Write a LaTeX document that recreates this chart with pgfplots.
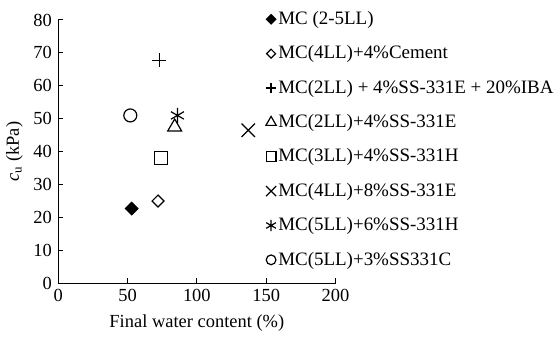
\documentclass[border=0pt]{standalone}
\usepackage{fontspec}
\setmainfont{Liberation Serif}
\usepackage{pgfplots}
\pgfplotsset{compat=1.18}
\begin{document}
\fontsize{18.5bp}{22bp}\selectfont
\begin{tikzpicture}
\begin{axis}[
 scale only axis, width=278bp, height=264bp,
 at={(0,0)}, anchor=south west,
 xmin=0,xmax=200,ymin=0,ymax=80,
 axis lines=left, axis line style={-, line width=1.2bp},
 xtick={0,50,...,200}, ytick={0,10,...,80},
 tick style={line width=1bp, black}, major tick length=5bp,
 tick align=inside,
 /pgf/number format/assume math mode=true,
 tick label style={font=\fontsize{18.5bp}{22bp}\selectfont},
 label style={font=\fontsize{18.5bp}{22bp}\selectfont},
 xlabel={Final water content (\%)},
 ylabel={\textit{c}\textsubscript{u} (kPa)},
 ylabel style={yshift=-2bp},
 legend style={draw=none, fill=none, at={(0.748,1.041)}, anchor=north west,
   font=\fontsize{19bp}{22bp}\selectfont, row sep=14.5bp, inner sep=0pt},
 legend cell align=left,
 legend image code/.code={\draw[#1, every mark/.append style={scale=0.75}] plot coordinates {(0cm,0cm)};},
]
\addplot[only marks, mark=square*, mark options={rotate=45, fill=black}, mark size=4.4bp, line width=1.2bp] coordinates {(53,22.7)};
\addlegendentry{MC (2-5LL)}
\addplot[only marks, mark=square, mark options={rotate=45}, mark size=4.2bp, line width=1.2bp] coordinates {(72,25)};
\addlegendentry{MC(4LL)+4\%Cement}
\addplot[only marks, mark=+, mark size=7bp, line width=1.2bp] coordinates {(73,67.7)};
\addlegendentry{MC(2LL) + 4\%SS-331E + 20\%IBA}
\addplot[only marks, mark=triangle, mark size=8bp, line width=1.2bp] coordinates {(84,47.5)};
\addlegendentry{MC(2LL)+4\%SS-331E}
\addplot[only marks, mark=square, mark size=6.5bp, line width=1.2bp] coordinates {(74,38)};
\addlegendentry{MC(3LL)+4\%SS-331H}
\addplot[only marks, mark=x, mark size=9.5bp, line width=1.2bp] coordinates {(137,46.5)};
\addlegendentry{MC(4LL)+8\%SS-331E}
\addplot[only marks, mark=asterisk, mark size=7.5bp, line width=1.2bp] coordinates {(86,51)};
\addlegendentry{MC(5LL)+6\%SS-331H}
\addplot[only marks, mark=o, mark size=6.5bp, line width=1.2bp] coordinates {(52,51)};
\addlegendentry{MC(5LL)+3\%SS331C}
\end{axis}
\path[use as bounding box] (-57bp,-46bp) rectangle (500bp,284bp);
\end{tikzpicture}
\end{document}
